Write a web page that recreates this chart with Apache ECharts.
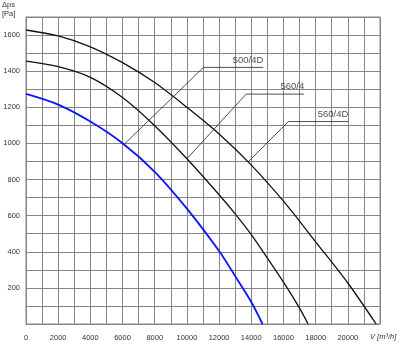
<!DOCTYPE html>
<html>
<head>
<meta charset="utf-8">
<script src="https://cdn.jsdelivr.net/npm/echarts@6/dist/echarts.min.js"></script>
<style>
  html, body { margin: 0; padding: 0; background: #fff; }
  #chart { width: 400px; height: 344px; }
</style>
</head>
<body>
<div id="chart"></div>
<script>
// Fan characteristic curves: static pressure vs. air volume
const flowPoints = [0, 2000, 4000, 6000, 8000, 10000, 12000, 14000, 16000, 18000, 20000];

const flow560_4D = [0, 2000, 4000, 6000, 8000, 10000, 12000, 14000, 16000, 18000, 20000, 21760];
const press560_4D = [1628, 1595, 1535, 1447, 1337, 1200, 1052, 880, 680, 455, 227, 0];

const flow560_4 = [0, 2000, 4000, 6000, 8000, 10000, 12000, 13000, 14000, 15000, 16000, 17000, 17530];
const press560_4 = [1456, 1425, 1366, 1254, 1098, 915, 716, 610, 495, 365, 232, 88, 0];

const flow500_4D = [0, 2000, 4000, 6000, 8000, 10000, 12000, 13000, 14000, 14700];
const press500_4D = [1274, 1215, 1121, 1001, 843, 639, 404, 265, 122, 0];

// Leader lines: point on the curve, elbow, end of the underline
const leader500_4D = [[6100, 995], [11030, 1421], [14750, 1421]];
const leader560_4 = [[10000, 915], [13680, 1273], [17290, 1273]];
const leader560_4D = [[13800, 897], [16310, 1121], [20030, 1121]];

const curveNames = ['500/4D', '560/4', '560/4D'];
const yTickLabels = [200, 400, 600, 800, 1000, 1200, 1400, 1600];

const zip = (xs, ys) => xs.map((x, i) => [x, ys[i]]);

const font = 'Arial, "Liberation Sans", sans-serif';
const gridColor = '#858585';

function curve(data, color, width) {
  return {
    type: 'line', data, smooth: 0.3, showSymbol: false, silent: true,
    lineStyle: { color, width }, z: 3
  };
}

function leader(points) {
  return {
    type: 'line', data: points, showSymbol: false, symbol: 'none', silent: true,
    lineStyle: { color: '#222', width: 0.8 }, z: 2
  };
}

// Curve names sit on the underline of each leader, right-aligned to its end
function nameLabels(leaders, names) {
  return {
    type: 'scatter', silent: true, symbolSize: 1, z: 4,
    itemStyle: { color: 'rgba(0,0,0,0)' },
    data: leaders.map((l, i) => ({ value: l[l.length - 1], name: names[i] })),
    label: {
      show: true, formatter: p => p.name, position: 'top', align: 'right', distance: 2,
      color: '#222', fontSize: 9.5, fontFamily: font
    }
  };
}

const chart = echarts.init(document.getElementById('chart'), null, { renderer: 'canvas' });
chart.setOption({
  animation: false,
  backgroundColor: '#fff',
  grid: { left: 26, right: 20, top: 17, bottom: 20, containLabel: false,
          show: true, borderColor: gridColor, borderWidth: 1 },
  xAxis: {
    type: 'value', min: 0, max: 22000, interval: 1000,
    axisLine: { show: true, lineStyle: { color: gridColor, width: 1 } },
    axisTick: { show: false },
    splitLine: { show: true, lineStyle: { color: gridColor, width: 1 } },
    axisLabel: {
      color: '#333', fontSize: 7.5, fontFamily: font, margin: 10,
      showMaxLabel: false,
      formatter: v => (flowPoints.includes(v) ? String(v) : '')
    }
  },
  yAxis: {
    type: 'value', min: 0, max: 1700, interval: 100,
    axisLine: { show: true, lineStyle: { color: gridColor, width: 1 } },
    axisTick: { show: false },
    splitLine: { show: true, lineStyle: { color: gridColor, width: 1 } },
    axisLabel: {
      color: '#333', fontSize: 7.5, fontFamily: font, margin: 6,
      formatter: v => (yTickLabels.includes(v) ? String(v) : '')
    }
  },
  graphic: [
    { type: 'text', left: 2, top: 1, style: { text: 'Δps', fill: '#333', font: '7.5px ' + font } },
    { type: 'text', left: 2, top: 10, style: { text: '[Pa]', fill: '#333', font: '7.5px ' + font } },
    { type: 'text', left: 370, top: 333, style: { text: 'V [m³/h]', fill: '#333', font: 'italic 7.5px ' + font } }
  ],
  series: [
    curve(zip(flow560_4D, press560_4D), '#111', 1.3),
    curve(zip(flow560_4, press560_4), '#111', 1.3),
    curve(zip(flow500_4D, press500_4D), '#0a14ff', 1.8),
    leader(leader500_4D),
    leader(leader560_4),
    leader(leader560_4D),
    nameLabels([leader500_4D, leader560_4, leader560_4D], curveNames)
  ]
});
</script>
</body>
</html>
